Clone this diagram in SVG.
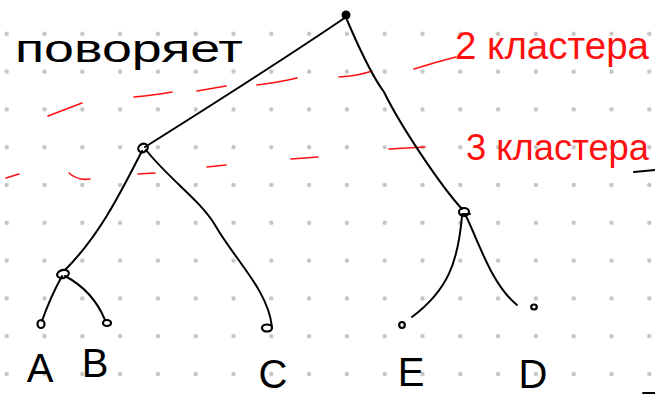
<svg xmlns="http://www.w3.org/2000/svg" width="655" height="398" viewBox="0 0 655 398">
  <style>
    .edge { fill: none; stroke: #000; stroke-width: 2; stroke-linecap: round; stroke-linejoin: round; }
    .cut { fill: none; stroke: #ff1010; stroke-width: 1.6; stroke-linecap: round; }
    .node { fill: none; stroke: #000; stroke-width: 2.2; }
    .leaf { font-family: "Liberation Sans", "DejaVu Sans", sans-serif; font-size: 40px; fill: #000; text-anchor: middle; }
    .note { font-family: "Liberation Sans", "DejaVu Sans", sans-serif; }
  </style>
  <defs>
    <pattern id="grid" x="-12.2" y="14.9" width="37.8" height="37.8" patternUnits="userSpaceOnUse">
      <circle cx="18.9" cy="18.9" r="2.2" fill="#c4c4c4"/>
    </pattern>
  </defs>
  <rect width="655" height="398" fill="#fff"/>
  <rect width="655" height="398" fill="url(#grid)"/>

  <!-- annotations -->
  <text class="note" x="15" y="62" font-size="38" textLength="228" lengthAdjust="spacingAndGlyphs" fill="#000">поворяет</text>
  <text class="note" x="455" y="59" font-size="38" textLength="194" lengthAdjust="spacingAndGlyphs" fill="#ff1010">2 кластера</text>
  <text class="note" x="466" y="160" font-size="36" textLength="183" lengthAdjust="spacingAndGlyphs" fill="#ff1010">3 кластера</text>

  <g id="cut-lines">
    <path class="cut" d="M48,116 L82,103"/>
    <path class="cut" d="M134,97 Q155,95 172,92"/>
    <path class="cut" d="M197,91 L226,86"/>
    <path class="cut" d="M257,85 Q280,82 297,78"/>
    <path class="cut" d="M339,77 Q358,76 372,71"/>
    <path class="cut" d="M414,69 Q436,62 456,57"/>
    <path class="cut" d="M6,178 L19,174"/>
    <path class="cut" d="M69,173 Q78,181 90,179"/>
    <path class="cut" d="M138,174 L155,173"/>
    <path class="cut" d="M207,167 L226,165"/>
    <path class="cut" d="M291,159 L318,157"/>
    <path class="cut" d="M389,149 L425,147"/>
  </g>

  <g id="connectors">
    <path class="edge" d="M346,17 Q280,62 145,147"/>
    <path class="edge" d="M347,20 C362,55 375,80 384,92 C400,125 440,185 462,209"/>
    <path class="edge" d="M142,151 C122,190 100,235 65,270"/>
    <path class="edge" d="M146,150 C170,180 200,200 215,225 C235,260 268,290 272,327"/>
    <path class="edge" d="M62,276 Q50,298 42,321"/>
    <path class="edge" d="M65,276 C82,285 96,298 105,320"/>
    <path class="edge" d="M462,216 C458,262 448,290 412,317"/>
    <path class="edge" d="M466,216 C480,245 492,285 517,305"/>
    <path class="edge" d="M634,172 L655,170"/>
    <path class="edge" d="M643,393 L655,393"/>
  </g>

  <g id="root"><circle cx="346" cy="15" r="4.5" fill="#000"/></g>
  <g id="n-ABC"><ellipse class="node" cx="143" cy="148" rx="5" ry="4" transform="rotate(-30 143 148)"/></g>
  <g id="n-AB"><ellipse class="node" cx="63" cy="274" rx="6" ry="4" transform="rotate(-15 63 274)"/></g>
  <g id="n-ED"><ellipse class="node" cx="464" cy="212" rx="5" ry="4"/><path class="edge" d="M462,214 L470,214"/></g>

  <g id="leaf-A"><ellipse class="node" cx="41" cy="324" rx="3.5" ry="4"/><text class="leaf" x="40" y="382">A</text></g>
  <g id="leaf-B"><ellipse class="node" cx="107" cy="323" rx="4" ry="3"/><text class="leaf" x="95" y="377">B</text></g>
  <g id="leaf-C"><ellipse class="node" cx="267" cy="328" rx="5" ry="3.5"/><text class="leaf" x="273" y="388">C</text></g>
  <g id="leaf-E"><ellipse class="node" cx="402" cy="325" rx="2.8" ry="3"/><text class="leaf" x="411" y="386">E</text></g>
  <g id="leaf-D"><ellipse class="node" cx="534" cy="307" rx="2.8" ry="2.5"/><text class="leaf" x="533" y="388">D</text></g>
</svg>
